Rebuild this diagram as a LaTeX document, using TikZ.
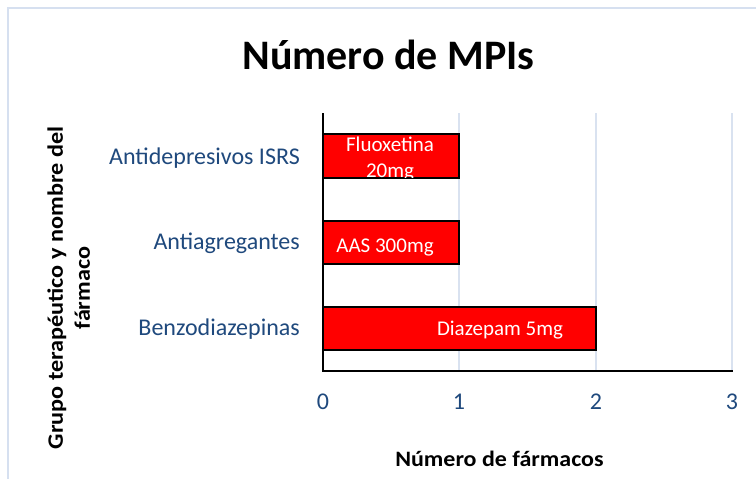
\documentclass[tikz,border=0pt]{standalone}
\usepackage{fontspec}
\usepackage{graphicx}
\setmainfont{Carlito}
\definecolor{lbl}{RGB}{31,73,125}
\definecolor{gridc}{RGB}{217,226,240}
\definecolor{framec}{RGB}{214,224,240}
\begin{document}
\begin{tikzpicture}[x=1pt,y=-1pt,
  catlbl/.style={anchor=base east,text=lbl,font=\fontsize{24}{28}\selectfont,inner sep=0pt},
  ticklbl/.style={anchor=base,text=lbl,font=\fontsize{24}{28}\selectfont,inner sep=0pt},
  barbox/.style={fill=red,draw=black,line width=1.3pt},
  barlbl/.style={anchor=base,text=white,font=\fontsize{21}{25}\selectfont,inner sep=0pt},
  gridln/.style={draw=gridc,line width=1.5pt},
  axisln/.style={draw=black,line width=2pt},
  ttl/.style={font=\bfseries\fontsize{42}{50}\selectfont,anchor=base,inner sep=0pt},
  axttl/.style={font=\bfseries\fontsize{22}{27}\selectfont,inner sep=0pt}]
\useasboundingbox (0,0) rectangle (756,479);
\fill[white] (0,0) rectangle (756,479);
% frame
\draw[draw=framec,line width=1.5pt] (8,479) -- (8,8) -- (756,8);
% title
\node[ttl] (title) at (388.5,69) {Número de MPIs};
% grid
\coordinate (g1t) at (459,113); \coordinate (g1b) at (459,371);
\coordinate (g2t) at (596,113); \coordinate (g2b) at (596,371);
\coordinate (g3t) at (732,113); \coordinate (g3b) at (732,371);
\draw[gridln] (g1t) -- (g1b);
\draw[gridln] (g2t) -- (g2b);
\draw[gridln] (g3t) -- (g3b);
% bars
\path[barbox] (323,134) rectangle (459,178);
\path[barbox] (323,221) rectangle (459,264);
\path[barbox] (323,307) rectangle (596,350);
% bar labels
\node[barlbl] (l1a) at (390,151) {Fluoxetina};
\begin{scope}
\clip (323,134) rectangle (459,177.5);
\node[barlbl] (l1b) at (390,177) {20mg};
\end{scope}
\node[barlbl] (l2) at (385,252) {AAS 300mg};
\node[barlbl] (l3) at (500,335) {Diazepam 5mg};
% axes
\coordinate (o) at (323,371);
\coordinate (yt) at (323,113);
\coordinate (xe) at (733,371);
\draw[axisln] (yt) -- (o) -- (xe);
% category labels
\node[catlbl] (c1) at (300,164) {Antidepresivos ISRS};
\node[catlbl] (c2) at (300,249) {Antiagregantes};
\node[catlbl] (c3) at (300,335) {Benzodiazepinas};
% tick labels
\node[ticklbl] (t0) at (323,409) {0};
\node[ticklbl] (t1) at (459,409) {1};
\node[ticklbl] (t2) at (596,409) {2};
\node[ticklbl] (t3) at (732,409) {3};
% axis titles
\node[axttl,anchor=base] (xt) at (499.5,466) {\scalebox{1.09}[1]{Número de fármacos}};
\node[axttl,rotate=90] (ytl) at (71,288) {\scalebox{1.1}[1]{\begin{tabular}{@{}c@{}}Grupo terapéutico y nombre del\\[0pt]fármaco\end{tabular}}};
\end{tikzpicture}
\end{document}
